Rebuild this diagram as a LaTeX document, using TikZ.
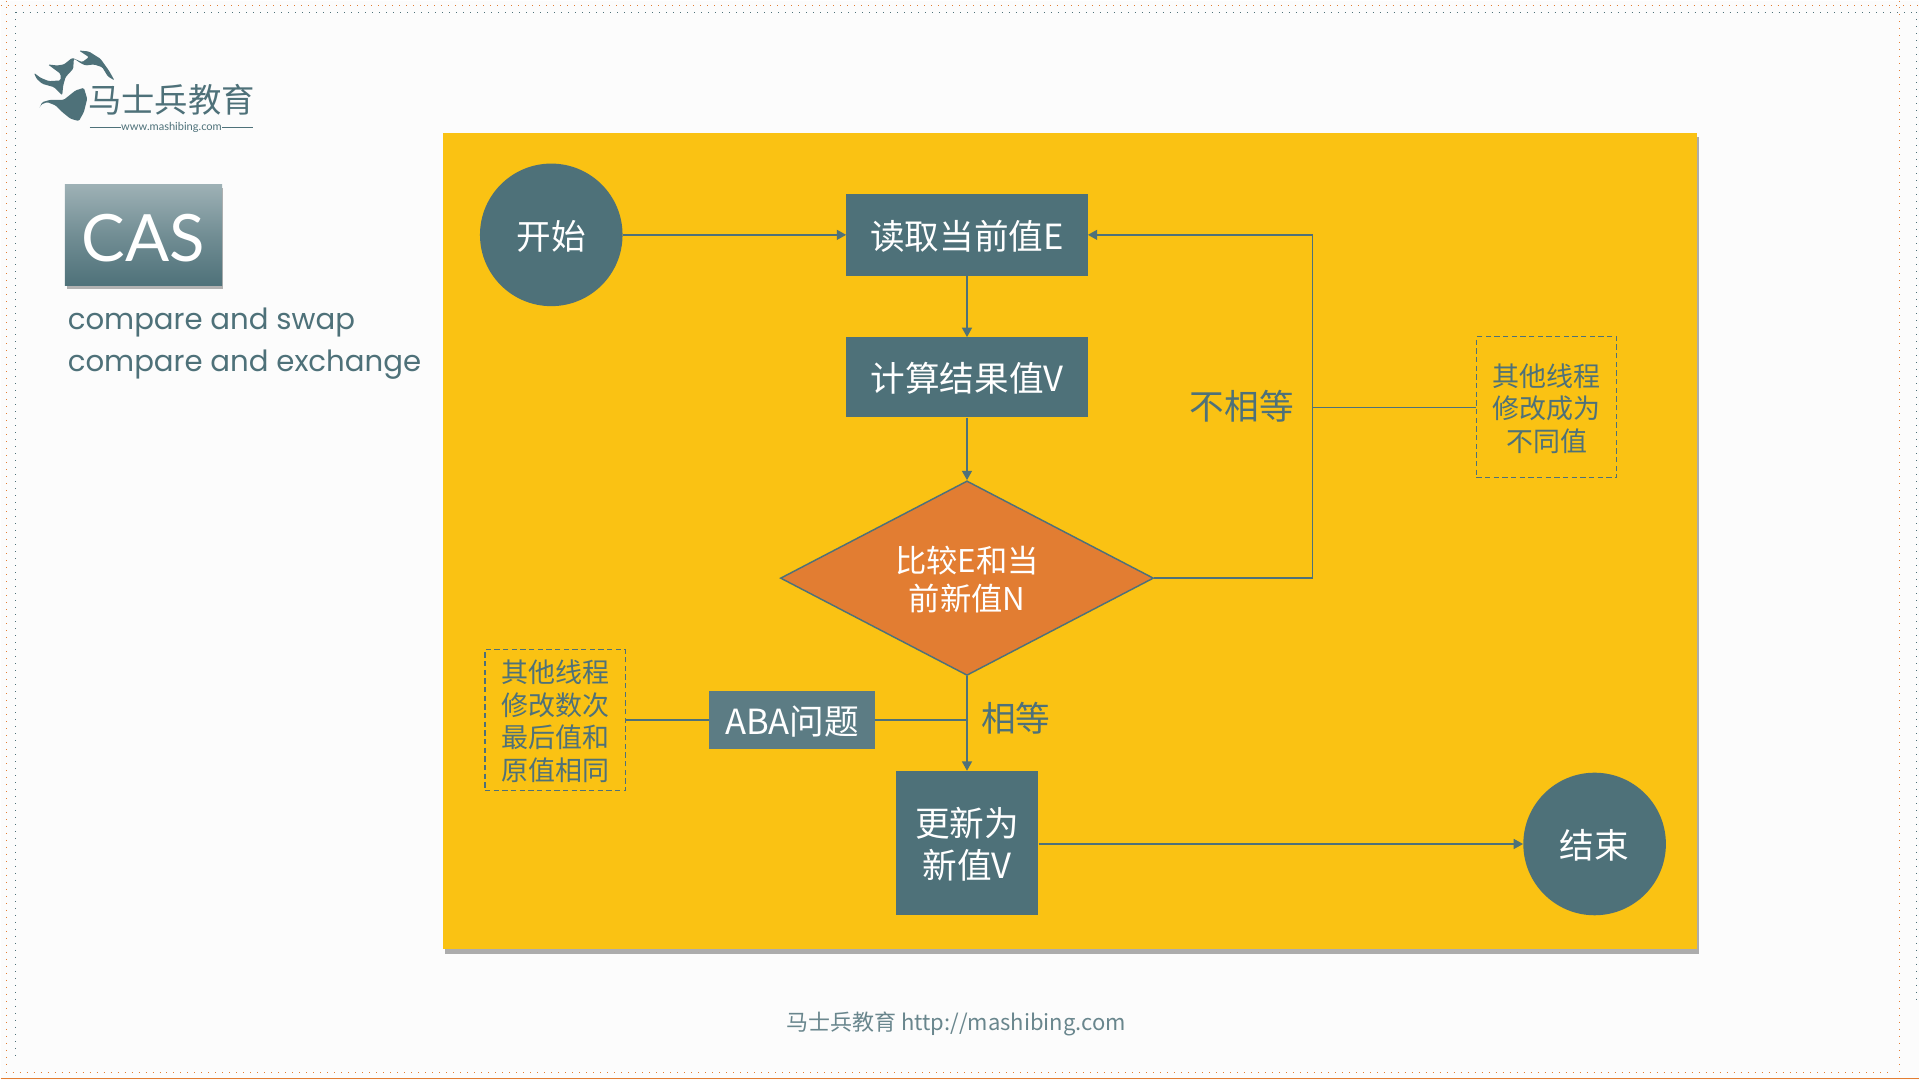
\documentclass[tikz,border=0pt]{standalone}
\usepackage{fontspec}
\setmainfont{Lato}
\newfontfamily\zhfont{Noto Sans CJK SC}
\newfontfamily\widefont{Poppins}
\usetikzlibrary{shapes.geometric,arrows.meta}
\definecolor{tealbox}{HTML}{4E7179}
\definecolor{ambpanel}{HTML}{FAC213}
\definecolor{orgdiam}{HTML}{E27D32}
\definecolor{pagebg}{HTML}{FCFCFC}
\tikzset{
  procbox/.style={rectangle, fill=tealbox, text=white, inner sep=0pt, align=center, text depth=0pt,
    font=\zhfont\fontsize{26}{31.5}\selectfont},
  termnode/.style={circle, fill=tealbox, text=white, inner sep=0pt, minimum size=107pt, text depth=0pt,
    font=\zhfont\fontsize{26}{31.5}\selectfont},
  notebox/.style={rectangle, draw=tealbox, line width=0.8pt, dash pattern=on 4pt off 2.5pt, text depth=0pt,
    text=tealbox, inner sep=0pt, minimum width=105.5pt, minimum height=105.5pt, align=center,
    font=\zhfont\fontsize{20.25}{24.4}\selectfont},
  branchlabel/.style={text=tealbox, inner sep=0pt, font=\zhfont\fontsize{26}{31}\selectfont},
  conn/.style={draw=tealbox, line width=1pt},
  arr/.style={conn, -{Triangle[length=7pt,width=7.5pt]}},
  edgedots/.style={line width=0.75pt, dash pattern=on 0.75pt off 4.5pt}
}
\begin{document}
\begin{tikzpicture}[x=0.75pt, y=-0.75pt]
    % page and frame
    \fill[pagebg] (0,0) rectangle (1920,1080);
    \draw[edgedots, tealbox] (15,12) -- (1917,12);
    \draw[edgedots, tealbox] (15,12) -- (15,1060);
    \draw[edgedots, tealbox] (1917,12) -- (1917,1005);
    \draw[edgedots, orgdiam] (0,5) -- (1920,5);
    \draw[edgedots, orgdiam] (6,0) -- (6,1070);
    \draw[edgedots, orgdiam] (1900,0) -- (1900,1075);
    \draw[edgedots, orgdiam] (5,1073) -- (1890,1073);
    \draw[orgdiam, line width=0.9pt] (0,1078.5) -- (1920,1078.5);

    % logo
    \begin{scope}[shift={(20,40)}, scale=1/3]
      \fill[tealbox, rounded corners=1pt] (175,30) -- (205,33) -- (240,55) -- (265,90) -- (282,120)
        -- (262,108) -- (245,80) -- (220,72) -- (195,75) -- (180,68) -- (160,54) -- (158,85)
        -- (135,110) -- (128,135) -- (125,165) -- (100,140) -- (65,130) -- (48,115) -- (40,97)
        -- (60,112) -- (85,122) -- (120,120) -- (120,100) -- (82,72) -- (110,75) -- (130,72)
        -- (155,52) -- (185,65) -- (205,50) -- cycle;
      \fill[tealbox, rounded corners=1pt] (55,205) -- (65,185) -- (90,178) -- (130,178)
        -- (165,150) -- (190,142) -- (200,175) -- (190,215) -- (175,242) -- (150,235)
        -- (125,215) -- (105,195) -- (80,185) -- (62,192) -- cycle;
    \end{scope}
    \node[text=tealbox, inner sep=0pt, font=\zhfont\fontsize{25}{30}\selectfont] (logotext) at (171,99.5) {马士兵教育};
    \node[text=tealbox, inner sep=0pt, font=\fontsize{8.3}{9}\selectfont] (logourl) at (171,127) {www.mashibing.com};
    \coordinate (logoleft) at (89,127);
    \coordinate (logoright) at (253,127);
    \draw[tealbox, line width=0.4pt] (logoleft) -- (logourl.west);
    \draw[tealbox, line width=0.4pt] (logourl.east) -- (logoright);

    % left title
    \fill[gray!60] (66,188) rectangle (223,289);
    \node[rectangle, top color=tealbox!55!white, bottom color=tealbox, middle color=tealbox!80!white,
      text=white, inner sep=0pt, minimum width=118pt, minimum height=76pt, text depth=0pt, text height=39pt,
      font=\fontsize{49}{60}\selectfont] (castitle) at (143,235) {CAS};
    \node[anchor=west, text=tealbox, inner sep=0pt, font=\widefont\fontsize{21.9}{30}\selectfont] (casline1) at (67,322) {compare and swap};
    \node[anchor=west, text=tealbox, inner sep=0pt, font=\widefont\fontsize{21.9}{30}\selectfont] (casline2) at (67,364) {compare and exchange};

    % panel
    \fill[gray!65] (445,137) rectangle (1699,954);
    \fill[ambpanel] (443,133) rectangle (1697,949.5);

    % nodes
    \node[termnode] (start) at (551,234.5) {开始};
    \node[procbox, minimum width=181pt, minimum height=61pt] (read) at (967,234.5) {读取当前值E};
    \node[procbox, minimum width=181pt, minimum height=60pt] (calc) at (967,377) {计算结果值V};
    \node[diamond, aspect=1.91, fill=orgdiam, draw=tealbox, line width=1.1pt, text=white, inner sep=0pt, text depth=0pt,
      minimum width=280pt, minimum height=146pt, align=center,
      font=\zhfont\fontsize{23.5}{28.5}\selectfont] (compare) at (967,578) {比较E和当\\前新值N};
    \node[procbox, minimum width=107pt, minimum height=108pt] (update) at (967,843) {更新为\\新值V};
    \node[termnode] (finish) at (1595,844) {结束};
    \node[procbox, fill=tealbox!92!white, minimum width=124pt, minimum height=44pt] (aba) at (792,720) {ABA问题};
    \node[notebox] (noteleft) at (555,720) {其他线程\\修改数次\\最后值和\\原值相同};
    \node[notebox] (noteright) at (1547,407) {其他线程\\修改成为\\不同值};
    \node[branchlabel] (nelabel) at (1242,406) {不相等};
    \node[branchlabel] (eqlabel) at (1016,718) {相等};
    \node[text=tealbox!85!white, inner sep=0pt, font=\zhfont\fontsize{16.5}{20}\selectfont] (footer) at (956,1024) {马士兵教育 http://mashibing.com};

    \coordinate (backcorner) at (1313,234.5);
    \coordinate (nejoin) at (1313,407);
    \coordinate (eqjoin) at (967,720);

    % connectors
    \draw[arr] (start) -- (read);
    \draw[arr] (read) -- (calc);
    \draw[arr] (calc) -- (compare);
    \draw[arr] (compare.south) -- (update);
    \draw[arr] (update.east |- finish) -- (finish);
    \draw[arr] (compare.east) -| (backcorner) -- (read);
    \draw[conn] (noteright) -- (nejoin);
    \draw[conn] (aba) -- (eqjoin);
    \draw[conn] (noteleft) -- (aba);
\end{tikzpicture}
\end{document}
